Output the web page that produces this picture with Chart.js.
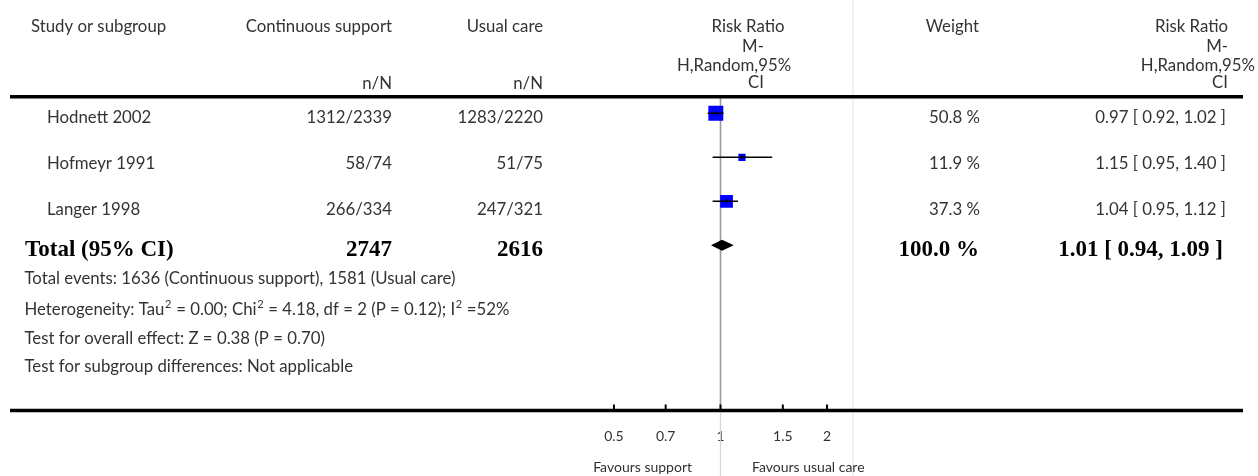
<!DOCTYPE html>
<html>
<head>
<meta charset="utf-8">
<title>Forest plot</title>
<script src="https://cdn.jsdelivr.net/npm/chart.js@4.4.0/dist/chart.umd.min.js"></script>
<style>
  html, body { margin: 0; padding: 0; background: #fff; overflow: hidden; }
  canvas { display: block; }
</style>
</head>
<body>
<canvas id="graficoFloresta" width="1258" height="476"></canvas>
<script>
// Dados dos estudos
const estudos = ['Hodnett 2002', 'Hofmeyr 1991', 'Langer 1998'];
const eventosSuporte = [1312, 58, 266];
const totalSuporte = [2339, 74, 334];
const eventosUsual = [1283, 51, 247];
const totalUsual = [2220, 75, 321];
const pesos = [50.8, 11.9, 37.3];
const riscoRelativo = [0.97, 1.15, 1.04];
const icInferior = [0.92, 0.95, 0.95];
const icSuperior = [1.02, 1.40, 1.12];

// Resultado combinado
const totalParticipantes = [2747, 2616];
const pesoTotal = 100.0;
const rrTotal = [1.01, 0.94, 1.09]; // estimativa, inferior, superior

// Eixo
const ticksEixo = [0.5, 0.7, 1, 1.5, 2];
const rotulosFavorece = ['Favours support', 'Favours usual care'];

// "^" marca o expoente 2
const notas = [
    'Total events: 1636 (Continuous support), 1581 (Usual care)',
    'Heterogeneity: Tau^ = 0.00; Chi^ = 4.18, df = 2 (P = 0.12); I^ =52%',
    'Test for overall effect: Z = 0.38 (P = 0.70)',
    'Test for subgroup differences: Not applicable'
];

// Estilos / layout
const FONTE = 'Lato, "Open Sans", "DejaVu Sans", sans-serif';
const SERIFA = '"Liberation Serif", "DejaVu Serif", serif';
const COR_TEXTO = '#333';
const TAM = 16.8;
const textoLinhaY = [117.5, 163.5, 209.5];
const totalY = 250;
const notasY = [278.5, 309.5, 338.5, 367];

function escrever(ctx, str, x, y, alinhamento, fonte, cor) {
    ctx.font = fonte;
    ctx.fillStyle = cor || COR_TEXTO;
    ctx.textAlign = alinhamento;
    ctx.textBaseline = 'middle';
    ctx.fillText(str, x, y);
}

// texto com sobrescrito (só alinhado à esquerda)
function escreverComExpoente(ctx, str, x, y) {
    const partes = str.split('^');
    let px = x;
    partes.forEach((p, i) => {
        escrever(ctx, p, px, y, 'left', TAM + 'px ' + FONTE);
        px += ctx.measureText(p).width;
        if (i < partes.length - 1) {
            escrever(ctx, '2', px + 0.5, y - 5.5, 'left', '11px ' + FONTE);
            px += ctx.measureText('2').width + 1;
        }
    });
}

function linha(ctx, x1, y1, x2, y2, cor, largura) {
    ctx.beginPath();
    ctx.strokeStyle = cor;
    ctx.lineWidth = largura;
    ctx.moveTo(x1, y1);
    ctx.lineTo(x2, y2);
    ctx.stroke();
}

const fmtRR = (a, b, c) => `${a.toFixed(2)} [ ${b.toFixed(2)}, ${c.toFixed(2)} ]`;

// Linhas de fundo (antes dos marcadores)
const pluginFundo = {
    id: 'fundo',
    beforeDatasetsDraw(chart) {
        const { ctx, chartArea, scales } = chart;
        const x1 = scales.x.getPixelForValue(1);
        ctx.save();
        linha(ctx, chartArea.right, 0, chartArea.right, chart.height, '#ececec', 1.5);
        linha(ctx, x1, chartArea.top, x1, chartArea.bottom, '#9a9a9a', 1.6);
        linha(ctx, x1, chartArea.bottom, x1, chart.height, '#d4d4d4', 1.2);
        ctx.restore();
    }
};

// Tabela, diamante e textos
const pluginTabela = {
    id: 'tabela',
    afterDraw(chart) {
        const { ctx, chartArea, scales } = chart;
        const x = scales.x, y = scales.y;
        ctx.save();

        // Diamante do total
        const yd = y.getPixelForValue(3);
        ctx.beginPath();
        ctx.moveTo(x.getPixelForValue(rrTotal[1]), yd);
        ctx.lineTo(x.getPixelForValue(rrTotal[0]), yd - 5.5);
        ctx.lineTo(x.getPixelForValue(rrTotal[2]), yd);
        ctx.lineTo(x.getPixelForValue(rrTotal[0]), yd + 5.5);
        ctx.closePath();
        ctx.fillStyle = '#000';
        ctx.fill();

        // Linhas horizontais da tabela
        linha(ctx, 10, 96.7, 1243, 96.7, '#000', 3.5);
        linha(ctx, 10, chartArea.bottom, 1243, chartArea.bottom, '#000', 3.5);
        ticksEixo.forEach(t => {
            const px = x.getPixelForValue(t);
            linha(ctx, px, chartArea.bottom - 6, px, chartArea.bottom, '#000', 2);
        });

        // Cabeçalho
        const fn = TAM + 'px ' + FONTE;
        escrever(ctx, 'Study or subgroup', 31, 26.5, 'left', fn);
        escrever(ctx, 'Continuous support', 392, 26.5, 'right', fn);
        escrever(ctx, 'Usual care', 543, 26.5, 'right', fn);
        escrever(ctx, 'n/N', 392, 83.5, 'right', fn);
        escrever(ctx, 'n/N', 543, 83.5, 'right', fn);
        escrever(ctx, 'Weight', 979, 26.5, 'right', fn);
        const cabRR = ['Risk Ratio', 'M-', 'H,Random,95%', 'CI'];
        const cabY = [26.5, 46.5, 65.5, 83];
        const cabMeioX = [748, 753, 734, 756];
        const cabDirX = [1228, 1228, 1255, 1228];
        cabRR.forEach((s, i) => {
            escrever(ctx, s, cabMeioX[i], cabY[i], 'center', fn);
            escrever(ctx, s, cabDirX[i], cabY[i], 'right', fn);
        });

        // Linhas dos estudos
        estudos.forEach((nome, i) => {
            const ty = textoLinhaY[i];
            escrever(ctx, nome, 47, ty, 'left', fn);
            escrever(ctx, `${eventosSuporte[i]}/${totalSuporte[i]}`, 392, ty, 'right', fn);
            escrever(ctx, `${eventosUsual[i]}/${totalUsual[i]}`, 543, ty, 'right', fn);
            escrever(ctx, `${pesos[i].toFixed(1)} %`, 980, ty, 'right', fn);
            escrever(ctx, fmtRR(riscoRelativo[i], icInferior[i], icSuperior[i]), 1226, ty, 'right', fn);
        });

        // Total
        const fb = 'bold 23px ' + SERIFA;
        escrever(ctx, 'Total (95% CI)', 25, totalY, 'left', fb, '#000');
        escrever(ctx, String(totalParticipantes[0]), 392, totalY, 'right', fb, '#000');
        escrever(ctx, String(totalParticipantes[1]), 543, totalY, 'right', fb, '#000');
        escrever(ctx, `${pesoTotal.toFixed(1)} %`, 979, totalY, 'right', fb, '#000');
        escrever(ctx, fmtRR(rrTotal[0], rrTotal[1], rrTotal[2]), 1223, totalY, 'right', fb, '#000');

        // Notas
        notas.forEach((n, i) => escreverComExpoente(ctx, n, 24.5, notasY[i]));

        // Favorece
        const f14 = '14px ' + FONTE;
        escrever(ctx, rotulosFavorece[0], 692, 467, 'right', f14);
        escrever(ctx, rotulosFavorece[1], 752, 467, 'left', f14);

        ctx.restore();
    }
};

// Monta os datasets a partir dos arrays
const linhasIC = estudos.map((nome, i) => ({
    label: 'IC ' + nome,
    data: [{ x: icInferior[i], y: i }, { x: icSuperior[i], y: i }],
    showLine: true,
    borderColor: '#000',
    borderWidth: 1.4,
    pointRadius: 0,
    order: 2
}));

const quadrados = {
    label: 'Estudos',
    data: estudos.map((n, i) => ({ x: riscoRelativo[i], y: i })),
    pointStyle: 'rect',
    pointRadius: pesos.map(p => 1.48 * Math.sqrt(p)),
    backgroundColor: '#0000ff',
    borderWidth: 0,
    order: 3
};

const marcasEstimativa = {
    label: 'Estimativas',
    data: estudos.map((n, i) => ({ x: riscoRelativo[i], y: i })),
    pointStyle: 'line',
    rotation: 90,
    pointRadius: 2.5,
    borderColor: '#000',
    borderWidth: 1,
    order: 1
};

const ctx = document.getElementById('graficoFloresta');
new Chart(ctx.getContext('2d'), {
    type: 'scatter',
    data: { datasets: [quadrados, ...linhasIC, marcasEstimativa] },
    options: {
        responsive: false,
        animation: false,
        devicePixelRatio: 1,
        layout: { padding: { left: 588, right: 405, top: 97, bottom: 0 } },
        plugins: { legend: { display: false }, tooltip: { enabled: false } },
        scales: {
            x: {
                type: 'logarithmic',
                bounds: 'data',
                min: 0.4223,
                max: 2.368,
                afterBuildTicks: s => { s.ticks = ticksEixo.map(v => ({ value: v })); },
                afterFit: s => { s.height = 65.5; },
                grid: { display: false, drawTicks: false },
                border: { display: false },
                ticks: {
                    autoSkip: false,
                    maxRotation: 0,
                    padding: 18,
                    color: COR_TEXTO,
                    font: { family: FONTE, size: 14 },
                    callback: v => String(v)
                }
            },
            y: { display: false, reverse: true, min: -0.3705, max: 6.7545 }
        }
    },
    plugins: [pluginFundo, pluginTabela]
});
</script>
</body>
</html>
